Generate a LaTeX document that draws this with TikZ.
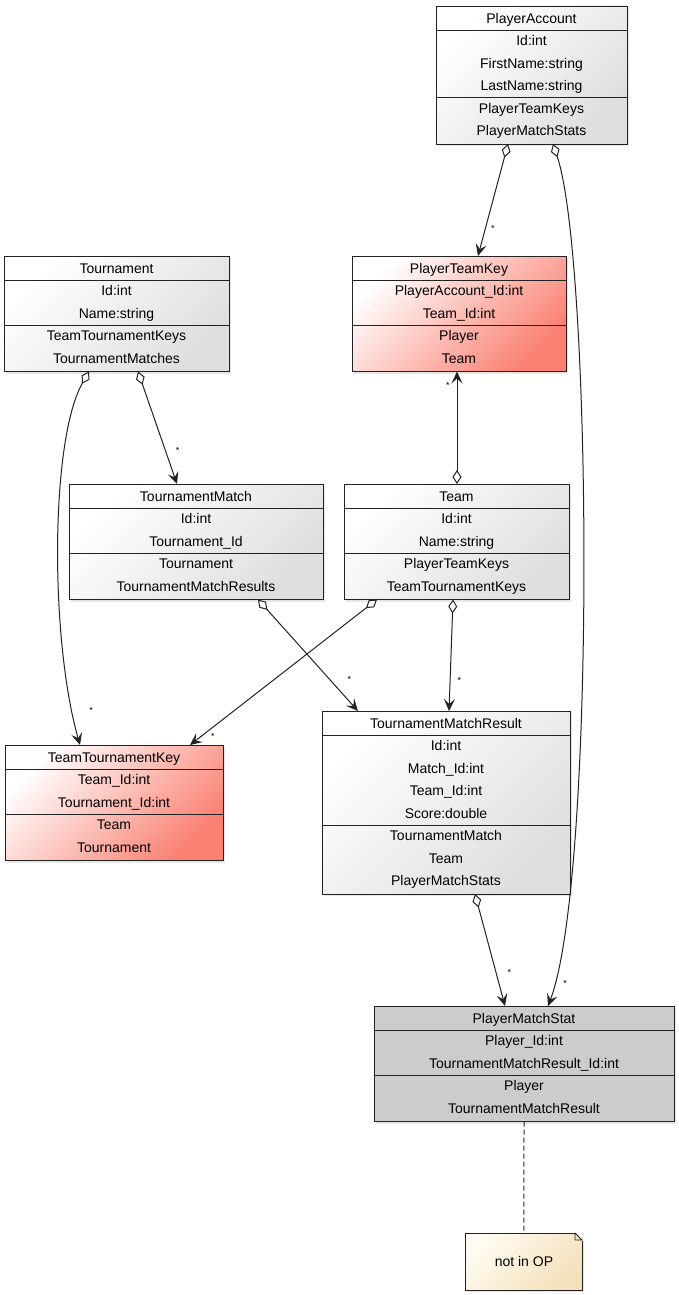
\documentclass[tikz,border=0pt]{standalone}
\usepackage{fontspec}
\setmainfont{Liberation Sans}
\usetikzlibrary{arrows.meta,shadows}

\definecolor{keyred}{RGB}{250,128,114}
\definecolor{boxgray}{RGB}{222,222,222}
\definecolor{statgray}{RGB}{204,204,204}
\definecolor{notetop}{RGB}{255,251,240}
\definecolor{notebot}{RGB}{244,224,188}
\definecolor{ink}{RGB}{34,34,34}

\begin{document}
\begin{tikzpicture}[x=1pt, y=-1pt,
	umlclass/.style={draw=ink, line width=0.9pt, anchor=north west, inner xsep=0pt, inner ysep=1.5pt,
		outer sep=0pt, align=center, font=\fontsize{14}{22.5}\selectfont, text depth=6.75pt,
		drop shadow={shadow xshift=2pt, shadow yshift=-2pt, opacity=0.2}},
	plainfill/.style={top color=white, bottom color=boxgray, shading angle=45},
	keyfill/.style={top color=white, bottom color=keyred, shading angle=45},
	statfill/.style={fill=statgray},
	divider/.style={draw=ink, line width=0.9pt},
	assoc/.style={draw=ink, line width=1pt,
		{Diamond[open, fill=white, length=14pt, width=9pt]}-{Stealth[length=12pt, width=11pt, inset=5pt]}},
	mult/.style={font=\fontsize{9}{9}\selectfont, inner sep=1pt},
	notebox/.style={draw=ink, line width=0.9pt, anchor=north west, minimum width=117pt, minimum height=57pt,
		top color=notetop, bottom color=notebot, shading angle=45, font=\fontsize{14}{15}\selectfont,
		drop shadow={shadow xshift=2pt, shadow yshift=-2pt, opacity=0.2}},
	]
	\useasboundingbox (0,0) rectangle (679,1295);

	% classes
	\node[umlclass, plainfill, minimum width=191pt] (acct) at (436,6)
		{\strut PlayerAccount\\Id:int\\FirstName:string\\LastName:string\\PlayerTeamKeys\\PlayerMatchStats};
	\node[umlclass, plainfill, minimum width=225pt] (tour) at (4,256)
		{\strut Tournament\\Id:int\\Name:string\\TeamTournamentKeys\\TournamentMatches};
	\node[umlclass, keyfill, minimum width=214pt] (ptk) at (352,256)
		{\strut PlayerTeamKey\\PlayerAccount\_Id:int\\Team\_Id:int\\Player\\Team};
	\node[umlclass, plainfill, minimum width=254pt] (tmatch) at (69,484)
		{\strut TournamentMatch\\Id:int\\Tournament\_Id\\Tournament\\TournamentMatchResults};
	\node[umlclass, plainfill, minimum width=225pt] (team) at (344,484)
		{\strut Team\\Id:int\\Name:string\\PlayerTeamKeys\\TeamTournamentKeys};
	\node[umlclass, keyfill, minimum width=218pt] (ttk) at (5,745)
		{\strut TeamTournamentKey\\Team\_Id:int\\Tournament\_Id:int\\Team\\Tournament};
	\node[umlclass, plainfill, minimum width=248pt] (tmr) at (322,711)
		{\strut TournamentMatchResult\\Id:int\\Match\_Id:int\\Team\_Id:int\\Score:double\\TournamentMatch\\Team\\PlayerMatchStats};
	\node[umlclass, statfill, minimum width=300pt] (pms) at (374,1006)
		{\strut PlayerMatchStat\\Player\_Id:int\\TournamentMatchResult\_Id:int\\Player\\TournamentMatchResult};

	% compartment lines
	\foreach \cls/\sep in {acct/91.5, tour/69, ptk/69, tmatch/69, team/69, ttk/69, tmr/114, pms/69} {
		\draw[divider] ([yshift=-24pt]\cls.north west) -- ([yshift=-24pt]\cls.north east);
		\draw[divider] ([yshift=-\sep pt]\cls.north west) -- ([yshift=-\sep pt]\cls.north east);
	}

	% note
	\node[notebox] (note) at (465,1233) {not in OP};
	\fill[white] (574,1232) -- (583.5,1232) -- (583.5,1241.5) -- cycle;
	\draw[divider, line join=round] (575,1233) -- (582,1240) -- (575,1240) -- cycle;
	\draw[draw=ink, line width=1pt, dash pattern=on 5pt off 3pt] (pms.south) -- (note.north);

	% associations
	\draw[assoc] ([xshift=72pt]acct.south west) -- ([xshift=126pt]ptk.north west)
		node[mult, pos=0.75, right=4pt] {*};
	\draw[assoc] ([xshift=117pt]acct.south west) .. controls (592,260) and (596,880) .. ([xshift=174pt]pms.north west)
		node[mult, pos=0.95, right=7pt] {*};
	\draw[assoc] ([xshift=85pt]tour.south west) .. controls (50,440) and (50,640) .. ([xshift=75pt]ttk.north west)
		node[mult, pos=0.9, right=16pt] {*};
	\draw[assoc] ([xshift=134pt]tour.south west) -- ([xshift=108pt]tmatch.north west)
		node[mult, pos=0.7, right=9pt] {*};
	\draw[assoc] ([xshift=113pt]team.north west) -- ([xshift=105pt]ptk.south west)
		node[mult, pos=0.88, left=6pt] {*};
	\draw[assoc] ([xshift=33pt]team.south west) -- ([xshift=185pt]ttk.north west)
		node[mult, pos=0.9, below right=1pt] {*};
	\draw[assoc] ([xshift=109pt]team.south west) -- ([xshift=127pt]tmr.north west)
		node[mult, pos=0.73, right=6pt] {*};
	\draw[assoc] ([xshift=189pt]tmatch.south west) -- ([xshift=36pt]tmr.north west)
		node[mult, pos=0.72, right=16pt] {*};
	\draw[assoc] ([xshift=153pt]tmr.south west) -- ([xshift=131pt]pms.north west)
		node[mult, pos=0.7, right=10pt] {*};
\end{tikzpicture}
\end{document}
